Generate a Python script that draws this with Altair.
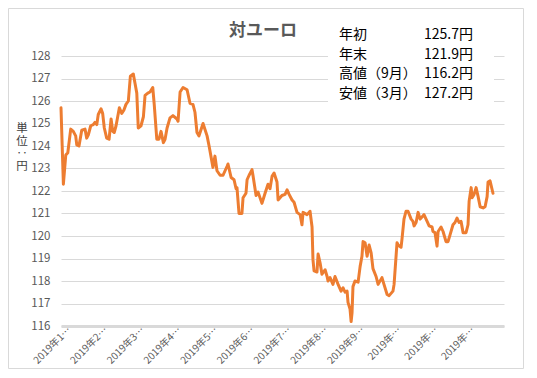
import altair as alt
import pandas as pd

# ---- data (trading-day index, JPY per EUR) ----
day = [0, 1.3, 2.6, 3.7, 5.3, 6.7, 8.0, 8.6, 9.8, 11.3, 13.1, 14.0, 14.9, 16.2, 17.6, 18.5, 19.5,
       20.3, 21.8, 22.7, 23.6, 24.9, 26.2, 27.3, 28.2, 29.0, 30.0, 31.8, 33.1, 34.3, 35.4, 36.7,
       37.8, 39.4, 40.3, 41.3, 42.1, 43.6, 44.9, 45.8, 47.3, 48.5, 50.0, 50.8, 52.2, 53.4, 54.5,
       55.8, 56.7, 57.8, 59.4, 61.0, 63.2, 63.8, 64.9, 66.5, 68.7, 70.3, 71.9, 73.0, 74.1, 75.2,
       77.4, 79.6, 80.7, 82.8, 83.9, 85.0, 86.7, 88.3, 90.5, 91.0, 92.7, 94.3, 95.4, 95.9, 97.0,
       98.6, 99.2, 100.8, 101.4, 102.5, 104.1, 104.6, 106.3, 107.4, 109.5, 111.2, 112.8, 113.9,
       115.0, 116.1, 117.7, 118.3, 120.4, 122.1, 123.2, 124.3, 125.9, 127.0, 128.6, 130.3, 131.3,
       131.9, 134.1, 135.7, 136.8, 137.3, 137.9, 139.5, 140.1, 141.2, 142.2, 143.9, 145.0, 145.5,
       146.6, 148.2, 149.3, 151.0, 152.6, 153.7, 154.8, 155.9, 156.4, 157.5, 158.1, 158.6, 159.1,
       160.2, 161.9, 163.0, 164.0, 164.6, 165.7, 166.8, 167.9, 169.0, 170.0, 171.7, 172.8, 174.9,
       176.0, 177.7, 178.8, 180.9, 181.5, 183.1, 183.7, 185.3, 185.8, 186.9, 188.0, 189.1, 190.8,
       191.8, 192.4, 193.5, 194.6, 195.7, 197.3, 197.8, 199.5, 200.6, 202.2, 202.7, 203.8, 204.9,
       205.5, 207.1, 208.2, 209.8, 210.9, 212.0, 213.6, 214.7, 215.8, 216.9, 218.0, 219.1, 220.7,
       221.8, 222.4, 223.5, 224.0, 225.1, 226.2, 227.3, 228.4, 230.0, 231.1, 232.2, 232.7, 233.8,
       235.4]
rate = [125.7, 122.3, 123.6, 123.7, 124.75, 124.65, 124.45, 124.05, 124.0, 124.7, 124.75, 124.35,
        124.5, 124.9, 124.95, 125.05, 124.95, 125.4, 125.65, 125.45, 124.8, 124.35, 124.3, 125.2,
        124.65, 124.6, 124.9, 125.7, 125.45, 125.6, 125.85, 126.0, 127.1, 127.2, 126.8, 126.35,
        124.8, 124.9, 125.3, 126.25, 126.35, 126.4, 126.6, 125.85, 124.3, 124.3, 124.65, 124.15,
        124.3, 124.8, 125.25, 125.35, 125.2, 125.1, 126.4, 126.6, 126.5, 125.9, 125.85, 125.5,
        124.6, 124.45, 125.0, 124.45, 124.0, 123.05, 123.55, 122.9, 122.7, 122.7, 123.1, 123.2,
        122.6, 122.5, 122.1, 122.15, 121.0, 121.0, 121.7, 121.9, 122.5, 122.7, 122.95, 122.7,
        121.8, 121.95, 121.45, 121.9, 122.3, 122.1, 122.65, 122.8, 122.4, 121.6, 121.8, 121.85,
        122.05, 121.85, 121.6, 121.5, 121.05, 120.95, 120.5, 121.05, 120.95, 121.1, 120.4, 118.95,
        118.45, 118.4, 119.2, 118.8, 118.3, 118.5, 118.2, 118.0, 118.15, 117.85, 118.2, 117.85,
        117.55, 117.7, 117.5, 117.55, 117.05, 116.75, 116.2, 116.6, 117.75, 118.0, 117.95, 118.65,
        119.1, 119.75, 119.7, 119.1, 119.6, 119.25, 118.55, 118.2, 117.85, 118.15, 117.85, 117.4,
        117.35, 117.55, 117.85, 119.7, 119.6, 119.5, 119.85, 120.75, 121.1, 121.1, 120.75, 120.65,
        120.45, 120.6, 121.05, 120.75, 120.9, 120.95, 120.65, 120.45, 120.4, 120.2, 120.15, 119.55,
        120.2, 120.4, 120.2, 119.75, 119.75, 120.05, 120.5, 120.6, 120.8, 120.6, 120.65, 120.15,
        120.15, 120.5, 121.55, 122.15, 121.7, 121.85, 122.15, 121.75, 121.3, 121.25, 121.3, 121.75,
        122.4, 122.45, 121.9]

tick_days = [0, 20, 40, 60, 80, 100, 120, 140, 160, 180, 200, 220]
tick_labels = ["2019年1…", "2019年2…", "2019年3…", "2019年4…", "2019年5…", "2019年6…",
               "2019年7…", "2019年8…", "2019年9…", "2019年…", "2019年…", "2019年…"]
y_ticks = list(range(116, 129))

summary_labels = ["年初", "年末", "高値（9月）", "安値（3月）"]
summary_values = ["125.7円", "121.9円", "116.2円", "127.2円"]
title_text = "対ユーロ"
unit_chars = ["単", "位", "‥", "円"]

FONT = "Noto Sans CJK JP"
W, H = 443, 270
PAD = {"left": 53, "top": 48, "right": 20, "bottom": 43}

df = pd.DataFrame({"day": day, "rate": rate})
one = pd.DataFrame({"k": [0]})

label_expr = "''"
for d, l in reversed(list(zip(tick_days, tick_labels))):
    label_expr = f"datum.value == {d} ? '{l}' : ({label_expr})"

line = alt.Chart(df).mark_line(
    color="#ED7D31", strokeWidth=3, strokeJoin="round", strokeCap="round"
).encode(
    x=alt.X("day:Q",
            scale=alt.Scale(domain=[0, 241.4], nice=False, zero=False),
            axis=alt.Axis(values=tick_days, labelExpr=label_expr, labelAngle=-45,
                          labelAlign="right", labelBaseline="middle", labelFlush=False,
                          labelOverlap=False, grid=False, ticks=False,
                          domainColor="#d9d9d9", domainWidth=3,
                          labelColor="#595959", labelFontSize=10, labelFont=FONT,
                          labelPadding=2, labelOffset=8, title=None)),
    y=alt.Y("rate:Q",
            scale=alt.Scale(domain=[116, 128], nice=False, zero=False),
            axis=alt.Axis(values=y_ticks, grid=True, gridColor="#d9d9d9", gridWidth=1,
                          domain=False, ticks=False, labelColor="#595959",
                          labelFontSize=11.5, labelFont=FONT, labelPadding=11, title=None)),
)

border = alt.Chart(one).mark_rect(filled=False, stroke="#d9d9d9", strokeWidth=1).encode(
    x=alt.value(-PAD["left"] + 0.5), x2=alt.value(W + PAD["right"] - 0.5),
    y=alt.value(-PAD["top"] + 0.5), y2=alt.value(H + PAD["bottom"] - 0.5),
)

box = alt.Chart(one).mark_rect(color="white").encode(
    x=alt.value(267), x2=alt.value(433), y=alt.value(-32), y2=alt.value(55)
)

lbl = alt.Chart(one).mark_text(
    text=summary_labels, align="left", baseline="middle", fontSize=14,
    lineHeight=19.7, font=FONT, color="#000000"
).encode(x=alt.value(278), y=alt.value(-21))

val = alt.Chart(one).mark_text(
    text=summary_values, align="right", baseline="middle", fontSize=14,
    lineHeight=19.7, font=FONT, color="#000000"
).encode(x=alt.value(412), y=alt.value(-21))

title = alt.Chart(one).mark_text(
    text=title_text, align="center", baseline="middle", fontSize=17,
    font=FONT, color="#595959", fontWeight="bold"
).encode(x=alt.value(202), y=alt.value(-25))

unit = alt.Chart(one).mark_text(
    text=unit_chars, align="center", baseline="middle", fontSize=11.5,
    lineHeight=12.5, font=FONT, color="#404040"
).encode(x=alt.value(-39), y=alt.value(73))

chart = alt.layer(border, line, box, lbl, val, title, unit).properties(
    width=W, height=H,
    autosize=alt.AutoSizeParams(type="none"),
    padding=PAD,
    background="white",
).configure_view(strokeWidth=0)

chart.save("out.html", embed_options={"renderer": "svg", "actions": False})
